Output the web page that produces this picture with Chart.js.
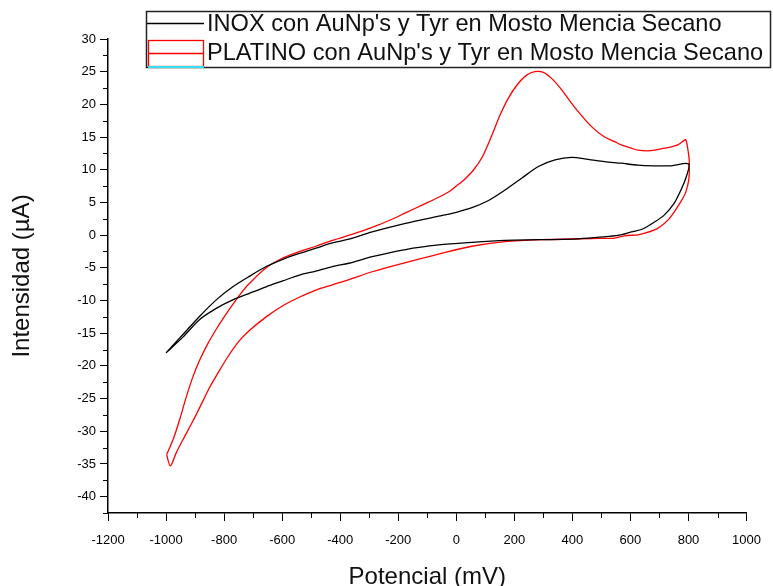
<!DOCTYPE html>
<html>
<head>
<meta charset="utf-8">
<script src="https://cdn.jsdelivr.net/npm/chart.js@4.4.1/dist/chart.umd.min.js"></script>
<style>
  html, body { margin: 0; padding: 0; background: #fff; }
  #wrap { position: relative; width: 773px; height: 586px; }
</style>
</head>
<body>
<div id="wrap"><canvas id="c" width="773" height="586"></canvas></div>
<script>
// ---- Data ----
const seriesNames = [
  "INOX con AuNp's y Tyr en Mosto Mencia Secano",
  "PLATINO con AuNp's y Tyr en Mosto Mencia Secano"
];

// INOX: potential (mV) and current (µA), one closed cyclic sweep
const inoxPotential = [
  -1000, -942, -884, -827, -770, -713, -655, -598, -541, -484, -427, -370, -290, -175, -61, 0, 54, 111, 168, 225,
  283, 340, 397, 454, 511, 568, 626, 683, 740, 800,
  793, 774, 751, 717, 683, 640, 603, 568, 523, 454, 397, 283, 168, 54, -61, -175, -290, -370, -427, -484,
  -541, -598, -655, -713, -770, -827, -884, -942, -1000
];
const inoxCurrent = [
  -18.0, -15.2, -12.4, -9.9, -7.9, -6.3, -4.8, -3.7, -2.8, -2.0, -1.2, -0.6, 0.5, 1.8, 2.9, 3.5, 4.2, 5.3, 6.9, 8.7,
  10.5, 11.5, 11.9, 11.6, 11.25, 11.0, 10.7, 10.6, 10.6, 10.9,
  9.0, 6.9, 4.9, 3.1, 2.0, 0.9, 0.5, 0.05, -0.2, -0.45, -0.6, -0.7, -0.8, -1.1, -1.5, -2.2, -3.3, -4.3, -4.8, -5.5,
  -6.1, -7.0, -7.9, -8.9, -9.9, -11.2, -12.9, -15.6, -18.0
];

// PLATINO: potential (mV) and current (µA), one closed cyclic sweep
const platinoPotential = [
  -998, -976, -953, -930, -907, -884, -856, -827, -798, -770, -742, -713, -655, -598, -541, -484, -427, -347, -290, -233,
  -175, -118, -61, -20, 0, 30, 60, 90, 120, 150, 180, 210, 240, 270, 300, 330, 360, 390, 420, 466,
  511, 546, 568, 603, 626, 660, 683, 717, 740, 763, 785, 791, 799, 803,
  801, 790, 772, 750, 729, 700, 683, 650, 626, 580, 546, 488, 294, 168, 54, -61, -175, -290, -370, -427,
  -484, -541, -598, -655, -713, -750, -787, -820, -850, -880, -907, -942, -965, -985, -998
];
const platinoCurrent = [
  -33.6, -31.3, -28.2, -24.7, -21.6, -19.1, -16.6, -14.4, -12.4, -10.6, -8.9, -7.4, -5.0, -3.5, -2.5, -1.7, -0.8, 0.3, 1.2, 2.2,
  3.4, 4.6, 5.8, 6.8, 7.5, 8.6, 10.0, 12.0, 15.0, 18.3, 21.0, 23.0, 24.4, 25.0, 24.9, 23.9, 22.4, 20.6, 18.9, 16.6,
  15.0, 14.3, 13.8, 13.3, 13.0, 12.9, 13.0, 13.3, 13.5, 13.8, 14.5, 14.6, 12.8, 11.0,
  8.5, 6.5, 5.0, 3.5, 2.3, 1.2, 0.8, 0.3, 0.05, -0.1, -0.45, -0.5, -0.7, -1.0, -1.7, -2.9, -4.2, -5.6, -6.8, -7.6,
  -8.4, -9.5, -10.8, -12.5, -14.6, -16.3, -18.6, -21.0, -23.3, -26.0, -28.4, -31.3, -33.3, -35.3, -33.6
];

// Axis ticks
const xTickValues = [-1200, -1000, -800, -600, -400, -200, 0, 200, 400, 600, 800, 1000];
const yTickValues = [-40, -35, -30, -25, -20, -15, -10, -5, 0, 5, 10, 15, 20, 25, 30];
const xMinorValues = [-1100, -900, -700, -500, -300, -100, 100, 300, 500, 700, 900];
const yMinorValues = [-42.5, -37.5, -32.5, -27.5, -22.5, -17.5, -12.5, -7.5, -2.5, 2.5, 7.5, 12.5, 17.5, 22.5, 27.5];
const xTitle = "Potencial (mV)";
const yTitle = "Intensidad (\u00b5A)";

const toPoints = (xs, ys) => xs.map((x, i) => ({ x: x, y: ys[i] }));

const FONT = "'Liberation Sans', Arial, sans-serif";

const minorTicks = {
  id: 'minorTicks',
  afterDraw(chart) {
    const ctx = chart.ctx;
    const xs = chart.scales.x, ys = chart.scales.y;
    const area = chart.chartArea;
    ctx.save();
    ctx.strokeStyle = '#000';
    ctx.lineWidth = 1;
    ctx.beginPath();
    xMinorValues.forEach(v => {
      const px = Math.round(xs.getPixelForValue(v)) + 0.5;
      ctx.moveTo(px, area.bottom);
      ctx.lineTo(px, area.bottom + 5);
    });
    yMinorValues.forEach(v => {
      const py = Math.round(ys.getPixelForValue(v)) + 0.5;
      ctx.moveTo(area.left, py);
      ctx.lineTo(area.left - 5, py);
    });
    ctx.stroke();
    ctx.restore();
  }
};

const boxLegend = {
  id: 'boxLegend',
  afterDraw(chart) {
    const ctx = chart.ctx;
    const ds = chart.data.datasets;
    ctx.save();
    ctx.fillStyle = '#fff';
    ctx.fillRect(146, 11, 625, 57);
    ctx.strokeStyle = '#222';
    ctx.lineWidth = 1.5;
    ctx.strokeRect(146.5, 11.5, 624, 56);
    // row 1: line sample
    ctx.strokeStyle = ds[0].borderColor;
    ctx.lineWidth = 1.3;
    ctx.beginPath();
    ctx.moveTo(147, 23.5);
    ctx.lineTo(204, 23.5);
    ctx.stroke();
    // row 2: box sample
    ctx.strokeStyle = ds[1].borderColor;
    ctx.lineWidth = 1.3;
    ctx.strokeRect(148.5, 40.5, 55, 26);
    ctx.beginPath();
    ctx.moveTo(148.5, 53.5);
    ctx.lineTo(203.5, 53.5);
    ctx.stroke();
    ctx.strokeStyle = '#33e0ee';
    ctx.lineWidth = 2;
    ctx.beginPath();
    ctx.moveTo(148, 67);
    ctx.lineTo(204, 67);
    ctx.stroke();
    // texts
    ctx.fillStyle = '#111';
    ctx.font = '23.6px ' + FONT;
    ctx.textBaseline = 'middle';
    ctx.textAlign = 'left';
    ctx.fillText(ds[0].label, 207, 24);
    ctx.fillText(ds[1].label, 207, 53);
    ctx.restore();
  }
};

new Chart(document.getElementById('c'), {
  type: 'scatter',
  data: {
    datasets: [
      {
        label: seriesNames[0],
        data: toPoints(inoxPotential, inoxCurrent),
        showLine: true,
        borderColor: '#000000',
        borderWidth: 1.3,
        pointRadius: 0,
        tension: 0.3,
        fill: false
      },
      {
        label: seriesNames[1],
        data: toPoints(platinoPotential, platinoCurrent),
        showLine: true,
        borderColor: '#ff0000',
        borderWidth: 1.3,
        pointRadius: 0,
        tension: 0.3,
        fill: false
      }
    ]
  },
  options: {
    responsive: false,
    animation: false,
    devicePixelRatio: 1,
    layout: { padding: { top: 39, right: 24, left: 0, bottom: 0 } },
    plugins: {
      legend: { display: false },
      tooltip: { enabled: false }
    },
    scales: {
      x: {
        type: 'linear',
        min: -1200,
        max: 1000,
        afterBuildTicks: s => { s.ticks = xTickValues.map(v => ({ value: v })); },
        afterFit: s => { s.height = 73; },
        grid: { drawOnChartArea: false, drawTicks: true, tickLength: 8, color: '#000', lineWidth: 1 },
        border: { display: true, color: '#000', width: 1.5 },
        ticks: { color: '#000', font: { family: FONT, size: 13 }, padding: 12, maxRotation: 0, autoSkip: false,
                 callback: v => String(v) },
        title: { display: true, text: xTitle, color: '#111', font: { family: FONT, size: 24, lineHeight: 1 }, padding: { top: 0, bottom: -3 } }
      },
      y: {
        type: 'linear',
        min: -42.5,
        max: 30,
        afterBuildTicks: s => { s.ticks = yTickValues.map(v => ({ value: v })); },
        afterFit: s => { s.width = 108; },
        grid: { drawOnChartArea: false, drawTicks: true, tickLength: 8, color: '#000', lineWidth: 1 },
        border: { display: true, color: '#000', width: 1.5 },
        ticks: { color: '#000', font: { family: FONT, size: 13 }, padding: 4, autoSkip: false,
                 callback: v => String(v) },
        title: { display: true, text: yTitle, color: '#111', font: { family: FONT, size: 24, lineHeight: 1 }, padding: { top: 10, bottom: 0 } }
      }
    }
  },
  plugins: [minorTicks, boxLegend]
});
</script>
</body>
</html>
